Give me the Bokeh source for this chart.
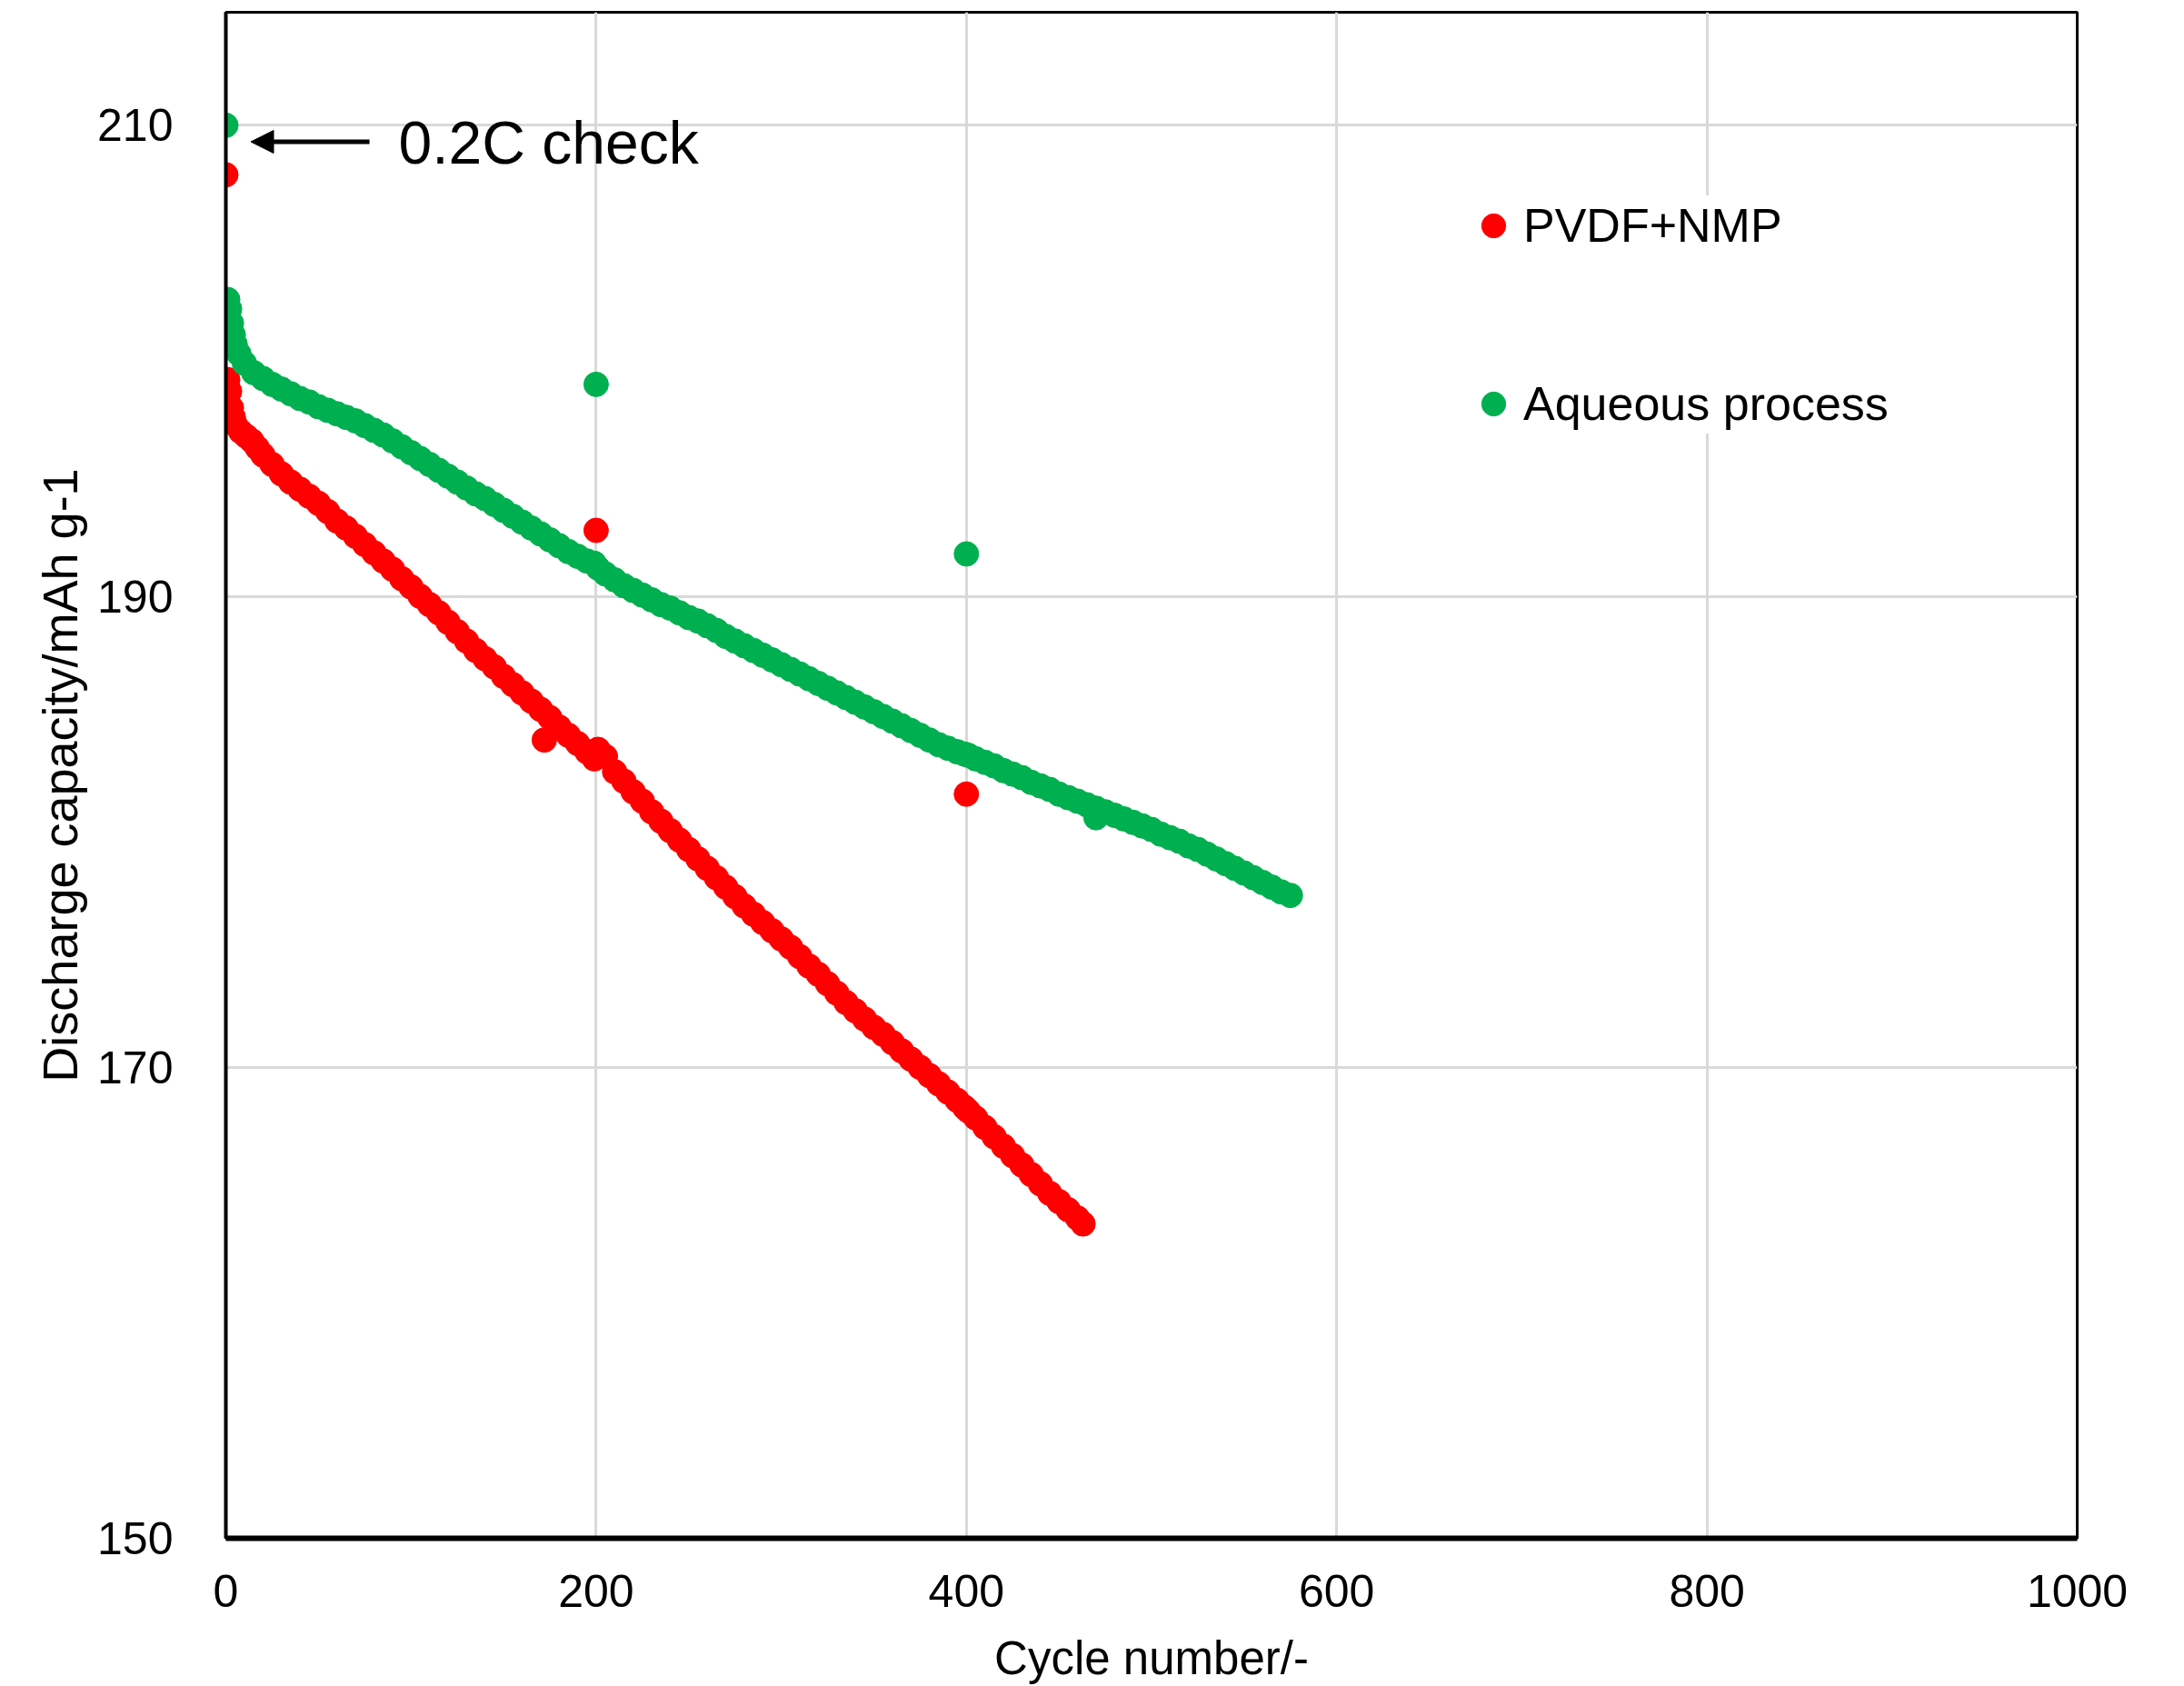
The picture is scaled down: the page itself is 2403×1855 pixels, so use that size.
from bokeh.plotting import figure
from bokeh.models import Range1d, FixedTicker, Label, Arrow, NormalHead
from bokeh.embed import file_html
from bokeh.resources import INLINE

# ---------------- data ----------------
x_ticks = [0, 200, 400, 600, 800, 1000]
y_ticks = [150, 170, 190, 210]

# PVDF+NMP (1C cycling)
pvdf_cycles = [1, 2, 3, 4, 5, 8, 11, 14, 17, 20, 25, 30, 35, 40, 45, 50, 55, 60, 65, 70,
               75, 80, 85, 90, 95, 100, 105, 110, 115, 120, 125, 130, 135, 140, 145, 150,
               155, 160, 165, 170, 175, 180, 185, 190, 195, 199, 201, 205, 210, 215, 220,
               225, 230, 235, 240, 245, 250, 255, 260, 265, 270, 275, 280, 285, 290, 295,
               300, 305, 310, 315, 320, 325, 330, 335, 340, 345, 350, 355, 360, 365, 370,
               375, 380, 385, 390, 395, 399, 401, 405, 410, 415, 420, 425, 430, 435, 440,
               445, 450, 455, 460, 463]
pvdf_capacity = [199.2, 198.7, 198.0, 197.6, 197.3, 197.0, 196.8, 196.6, 196.3, 196.0, 195.6,
                 195.2, 194.85, 194.55, 194.25, 193.95, 193.6, 193.2, 192.9, 192.55, 192.2,
                 191.85, 191.5, 191.15, 190.75, 190.4, 190.0, 189.65, 189.3, 188.9, 188.5,
                 188.1, 187.7, 187.35, 187.0, 186.6, 186.25, 185.9, 185.55, 185.2, 184.85,
                 184.45, 184.1, 183.75, 183.4, 183.1, 183.5, 183.2, 182.55, 182.15, 181.7,
                 181.3, 180.85, 180.45, 180.05, 179.65, 179.25, 178.85, 178.45, 178.05,
                 177.65, 177.25, 176.85, 176.5, 176.15, 175.8, 175.45, 175.1, 174.7, 174.3,
                 173.95, 173.55, 173.15, 172.75, 172.4, 172.05, 171.7, 171.4, 171.05, 170.7,
                 170.35, 170.0, 169.65, 169.3, 168.95, 168.6, 168.3, 168.15, 167.85, 167.45,
                 167.05, 166.65, 166.25, 165.85, 165.45, 165.05, 164.65, 164.3, 163.95,
                 163.6, 163.35]
# 0.2C check cycles and one outlier
pvdf_extra_cycles = [0, 200, 400, 172]
pvdf_extra_capacity = [207.9, 192.8, 181.6, 183.9]

# Aqueous process (1C cycling)
aq_cycles = [1, 2, 3, 4, 5, 7, 10, 15, 20, 25, 30, 35, 40, 45, 50, 55, 60, 65, 70, 75, 80,
             85, 90, 95, 100, 105, 110, 115, 120, 125, 130, 135, 140, 145, 150, 155, 160,
             165, 170, 175, 180, 185, 190, 195, 199, 201, 205, 210, 215, 220, 225, 230, 235,
             240, 245, 250, 255, 260, 265, 270, 275, 280, 285, 290, 295, 300, 305, 310, 315,
             320, 325, 330, 335, 340, 345, 350, 355, 360, 365, 370, 375, 380, 385, 390, 395,
             399, 401, 405, 410, 415, 420, 425, 430, 435, 440, 445, 450, 455, 460, 465, 470,
             475, 480, 485, 490, 495, 500, 505, 510, 515, 520, 525, 530, 535, 540, 545, 550,
             555, 560, 565, 570, 575]
aq_capacity = [202.6, 202.2, 201.6, 201.1, 200.7, 200.3, 199.9, 199.5, 199.25, 199.0, 198.8,
               198.6, 198.4, 198.25, 198.05, 197.9, 197.75, 197.6, 197.45, 197.25, 197.05,
               196.85, 196.6, 196.35, 196.1, 195.85, 195.6, 195.35, 195.1, 194.85, 194.6,
               194.35, 194.15, 193.9, 193.65, 193.4, 193.15, 192.9, 192.65, 192.4, 192.15,
               191.9, 191.7, 191.5, 191.4, 191.2, 190.95, 190.7, 190.45, 190.25, 190.05,
               189.85, 189.65, 189.5, 189.3, 189.1, 188.95, 188.75, 188.55, 188.3, 188.1,
               187.9, 187.7, 187.5, 187.3, 187.1, 186.9, 186.7, 186.5, 186.3, 186.1, 185.9,
               185.7, 185.5, 185.3, 185.1, 184.9, 184.7, 184.5, 184.3, 184.1, 183.9, 183.7,
               183.55, 183.4, 183.3, 183.25, 183.1, 182.95, 182.8, 182.6, 182.45, 182.3,
               182.1, 181.95, 181.8, 181.6, 181.45, 181.3, 181.15, 181.0, 180.85, 180.7,
               180.55, 180.4, 180.25, 180.1, 179.9, 179.75, 179.6, 179.4, 179.25, 179.05,
               178.85, 178.65, 178.45, 178.25, 178.05, 177.85, 177.65, 177.45, 177.3]
aq_extra_cycles = [0, 200, 400, 470]
aq_extra_capacity = [210.0, 199.0, 191.8, 180.6]

RED = "#FF0000"
GREEN = "#00B050"
FONT = "Liberation Sans"

# ---------------- figure ----------------
p = figure(width=2387, height=1855, output_backend="svg", toolbar_location=None,
           x_range=Range1d(0, 1000), y_range=Range1d(150, 214.8),
           min_border_left=248, min_border_right=102, min_border_top=13,
           min_border_bottom=159)

p.background_fill_color = "white"
p.border_fill_color = "white"
p.outline_line_color = "black"
p.outline_line_width = 3

p.xaxis.ticker = FixedTicker(ticks=x_ticks)
p.yaxis.ticker = FixedTicker(ticks=y_ticks)
p.xgrid.ticker = FixedTicker(ticks=x_ticks)
p.ygrid.ticker = FixedTicker(ticks=y_ticks)
for g in (p.xgrid, p.ygrid):
    g.grid_line_color = "#d9d9d9"
    g.grid_line_width = 3

for ax in (p.xaxis, p.yaxis):
    ax.major_tick_line_color = None
    ax.minor_tick_line_color = None
    ax.major_tick_out = 0
    ax.major_tick_in = 0
    ax.minor_tick_out = 0
    ax.axis_line_color = "black"
    ax.major_label_text_font = FONT
    ax.major_label_text_font_size = "50px"
    ax.major_label_text_color = "black"
    ax.axis_label_text_font = FONT
    ax.axis_label_text_font_style = "normal"
    ax.axis_label_text_color = "black"

p.xaxis.axis_line_width = 6
p.yaxis.axis_line_width = 4
p.xaxis.major_label_standoff = 40
p.yaxis.major_label_standoff = 58
p.xaxis.axis_label = "Cycle number/-"
p.yaxis.axis_label = "Discharge capacity/mAh g-1"
p.xaxis.axis_label_text_font_size = "51px"
p.yaxis.axis_label_text_font_size = "54px"
p.xaxis.axis_label_standoff = 25
p.yaxis.axis_label_standoff = 8

# ---------------- data marks ----------------
p.scatter(pvdf_cycles + pvdf_extra_cycles, pvdf_capacity + pvdf_extra_capacity,
          size=27, fill_color=RED, line_color=RED, legend_label="PVDF+NMP")
p.scatter(aq_cycles + aq_extra_cycles, aq_capacity + aq_extra_capacity,
          size=27, fill_color=GREEN, line_color=GREEN, legend_label="Aqueous process")

# ---------------- legend ----------------
lg = p.legend[0]
lg.location = (1362, 1215)
lg.background_fill_color = "white"
lg.background_fill_alpha = 1
lg.border_line_color = None
lg.padding = 55
lg.spacing = 130
lg.glyph_width = 66
lg.glyph_height = 66
lg.label_height = 66
lg.label_standoff = 0
lg.label_text_font = FONT
lg.label_text_font_size = "52px"
lg.label_text_color = "black"

# ---------------- annotation ----------------
p.add_layout(Arrow(end=NormalHead(size=25, fill_color="black", line_color="black"),
                   x_start=77.6, y_start=209.3, x_end=13.5, y_end=209.3,
                   line_width=5, line_color="black"))
p.add_layout(Label(x=93.3, y=209.25, text="0.2C check", text_font=FONT,
                   text_font_size="66px", text_baseline="alphabetic",
                   text_color="black"))

open("out.html", "w").write(file_html(p, INLINE))
